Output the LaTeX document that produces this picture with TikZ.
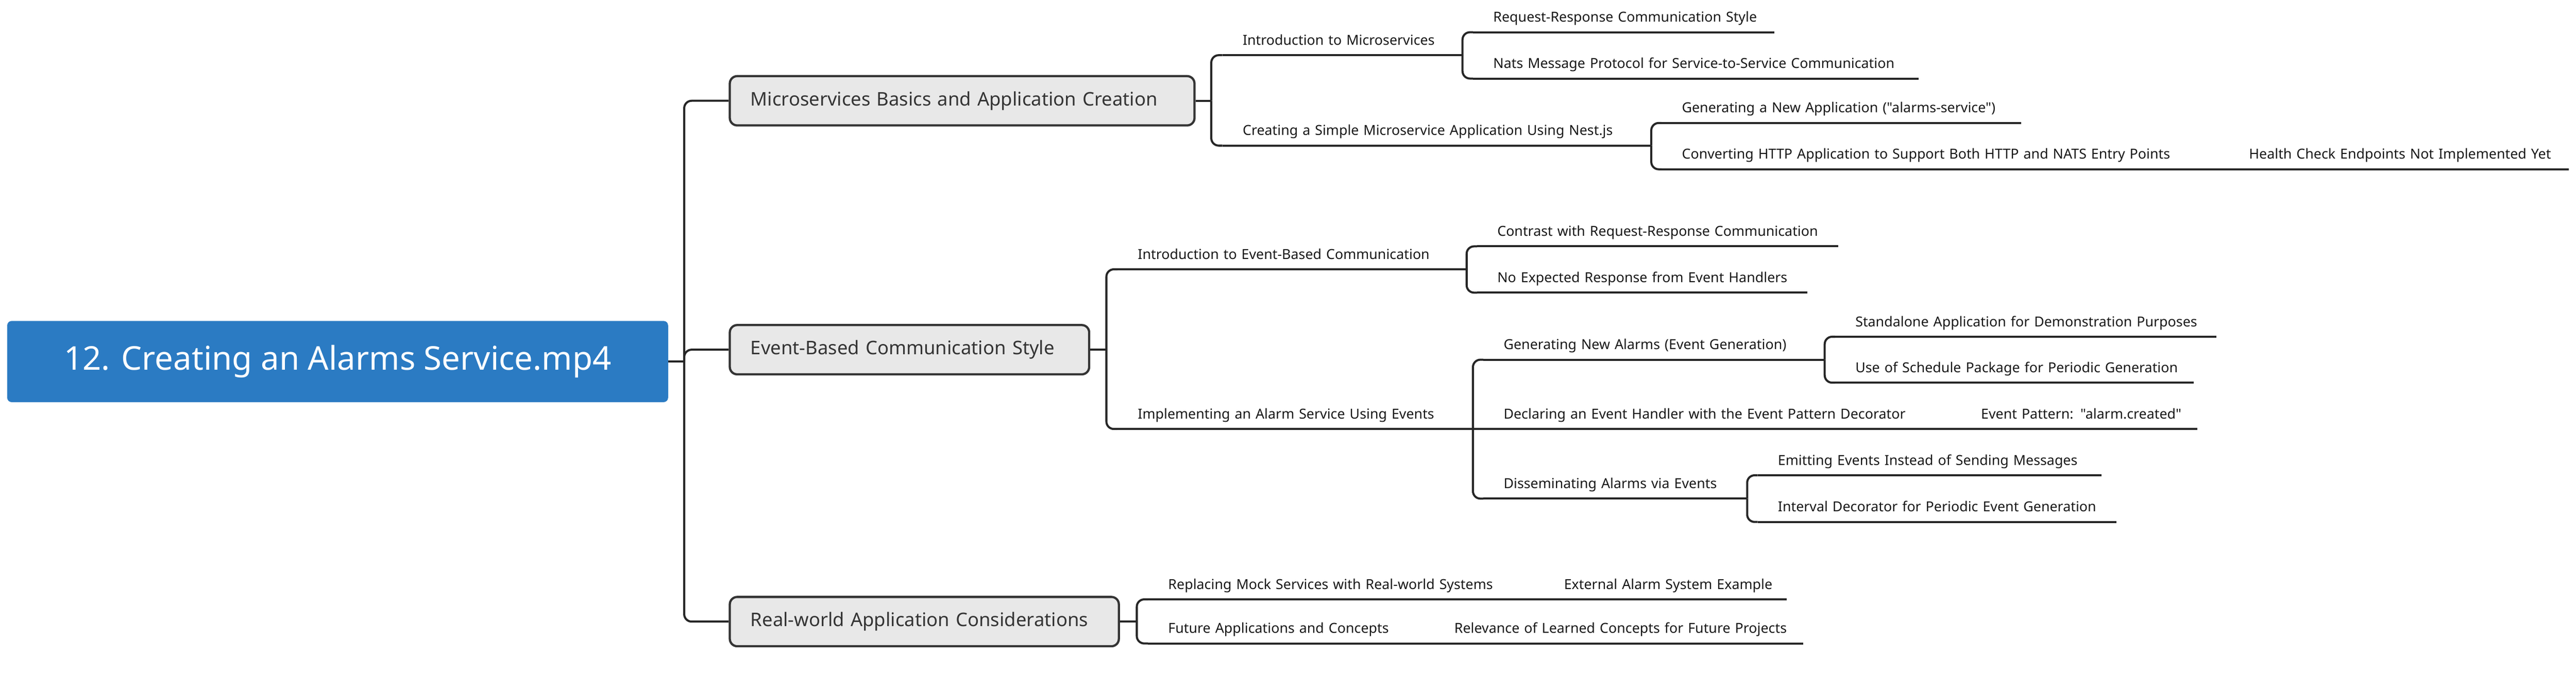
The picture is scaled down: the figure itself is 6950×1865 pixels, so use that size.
\documentclass[tikz,border=0pt]{standalone}
\usepackage{fontspec}
\setmainfont{Noto Sans}[Ligatures=TeXOff]
\usepackage{xcolor}
\usepackage{tikz}
\tikzset{>=latex}

\definecolor{rootblue}{RGB}{43,123,195}
\definecolor{boxfill}{RGB}{232,232,232}
\definecolor{boxline}{RGB}{52,52,52}
\definecolor{branchink}{RGB}{38,38,38}
\definecolor{leafink}{RGB}{24,24,24}

\newcommand{\mmrootfont}{\fontsize{25.1pt}{30pt}\selectfont}
\newcommand{\mmtopicfont}{\fontsize{14.4pt}{17pt}\selectfont}
\newcommand{\mmleaffont}{\fontsize{10.6pt}{12pt}\selectfont}
\newlength{\leafpad}\setlength{\leafpad}{0.54cm}

\tikzset{
  branch/.style={draw=branchink, line width=1.6pt, rounded corners=0.2cm},
  rootbox/.style={fill=rootblue, text=white, rounded corners=0.12cm,
    minimum width=17.82cm, minimum height=2.19cm, font=\mmrootfont},
  topicbox/.style={draw=boxline, fill=boxfill, text=boxline, line width=1.7pt,
    rounded corners=0.2cm, anchor=west, inner xsep=0pt, minimum height=1.33cm,
    font=\mmtopicfont, align=left, text width=#1,
    execute at begin node={\hspace*{0.56cm}}},
  leaf/.style={anchor=south west, inner xsep=0pt, inner ysep=0.27cm,
    text depth=0pt, font=\mmleaffont, text=leafink, align=left, text width=#1,
    execute at begin node={\hspace*{\leafpad}}},
}

\begin{document}
\begin{tikzpicture}[x=0.01cm, y=-0.01cm]

\useasboundingbox (0,0) rectangle (6950,1865);

% Root and main topics
\node[rootbox] (root) at (911,976) {12. Creating an Alarms Service.mp4};
\node[topicbox=12.53cm] (mbox) at (1966,272) {Microservices Basics and Application Creation};
\node[topicbox=9.69cm] (ebox) at (1966,944) {Event-Based Communication Style};
\node[topicbox=10.49cm] (rbox) at (1966,1678) {Real-world Application Considerations};

% Microservices branch
\node[leaf=6.46cm] (mi1) at (3298,149) {Introduction to Microservices};
\node[leaf=8.11cm] (mi11) at (3974,87) {Request-Response Communication Style};
\node[leaf=12.00cm] (mi12) at (3974,212) {Nats Message Protocol for Service-to-Service Communication};
\node[leaf=11.55cm] (mi2) at (3298,393) {Creating a Simple Microservice Application Using Nest.js};
\node[leaf=9.68cm] (mi21) at (4483,332) {Generating a New Application ("alarms-service")};
\node[leaf=15.30cm] (mi22) at (4483,457) {Converting HTTP Application to Support Both HTTP and NATS Entry Points};
\node[leaf=9.15cm] (mi221) at (6013,457) {Health Check Endpoints Not Implemented Yet};

% Event branch
\node[leaf=9.40cm] (ev1) at (3015,727) {Introduction to Event-Based Communication};
\node[leaf=9.72cm] (ev11) at (3985,665) {Contrast with Request-Response Communication};
\node[leaf=8.89cm] (ev12) at (3985,790) {No Expected Response from Event Handlers};
\node[leaf=9.57cm] (ev2) at (3015,1158) {Implementing an Alarm Service Using Events};
\node[leaf=9.19cm] (ev21) at (4002,971) {Generating New Alarms (Event Generation)};
\node[leaf=10.27cm] (ev211) at (4951,909) {Standalone Application for Demonstration Purposes};
\node[leaf=9.66cm] (ev212) at (4951,1033) {Use of Schedule Package for Periodic Generation};
\node[leaf=12.88cm] (ev22) at (4002,1158) {Declaring an Event Handler with the Event Pattern Decorator};
\node[leaf=6.37cm] (ev221) at (5290,1158) {Event Pattern: "alarm.created"};
\node[leaf=7.10cm] (ev23) at (4002,1346) {Disseminating Alarms via Events};
\node[leaf=9.26cm] (ev231) at (4742,1283) {Emitting Events Instead of Sending Messages};
\node[leaf=9.66cm] (ev232) at (4742,1409) {Interval Decorator for Periodic Event Generation};

% Real-world branch
\node[leaf=10.68cm] (re1) at (3097,1618) {Replacing Mock Services with Real-world Systems};
\node[leaf=6.54cm] (re11) at (4165,1618) {External Alarm System Example};
\node[leaf=7.72cm] (re2) at (3097,1737) {Future Applications and Concepts};
\node[leaf=9.94cm] (re21) at (3869,1737) {Relevance of Learned Concepts for Future Projects};

% Underlines
\foreach \n in {mi1,mi11,mi12,mi2,mi21,mi22,mi221,ev1,ev11,ev12,ev2,ev21,ev211,ev212,ev22,ev221,ev23,ev231,ev232,re1,re11,re2,re21}
  \draw[branch] (\n.south west) -- (\n.south east);

% Connectors
\coordinate (hubroot) at (1846,976);
\draw[branch] (root.east) -- (hubroot);
\foreach \t in {mbox,ebox,rbox}
  \draw[branch] (hubroot) |- (\t.west);

\coordinate (hubm) at (3268,272);
\draw[branch] (mbox.east) -- (hubm);
\foreach \c in {mi1,mi2}
  \draw[branch] (hubm) |- (\c.south west);
\foreach \c in {mi11,mi12}
  \draw[branch] (mi1.south east) |- (\c.south west);
\foreach \c in {mi21,mi22}
  \draw[branch] (mi2.south east) |- (\c.south west);
\draw[branch] (mi22.south east) -- (mi221.south west);

\coordinate (hube) at (2985,944);
\draw[branch] (ebox.east) -- (hube);
\foreach \c in {ev1,ev2}
  \draw[branch] (hube) |- (\c.south west);
\foreach \c in {ev11,ev12}
  \draw[branch] (ev1.south east) |- (\c.south west);
\foreach \c in {ev21,ev23}
  \draw[branch] (ev2.south east) |- (\c.south west);
\draw[branch] (ev2.south east) -- (ev22.south west);
\foreach \c in {ev211,ev212}
  \draw[branch] (ev21.south east) |- (\c.south west);
\draw[branch] (ev22.south east) -- (ev221.south west);
\foreach \c in {ev231,ev232}
  \draw[branch] (ev23.south east) |- (\c.south west);

\coordinate (hubr) at (3067,1678);
\draw[branch] (rbox.east) -- (hubr);
\foreach \c in {re1,re2}
  \draw[branch] (hubr) |- (\c.south west);
\draw[branch] (re1.south east) -- (re11.south west);
\draw[branch] (re2.south east) -- (re21.south west);

\end{tikzpicture}
\end{document}
